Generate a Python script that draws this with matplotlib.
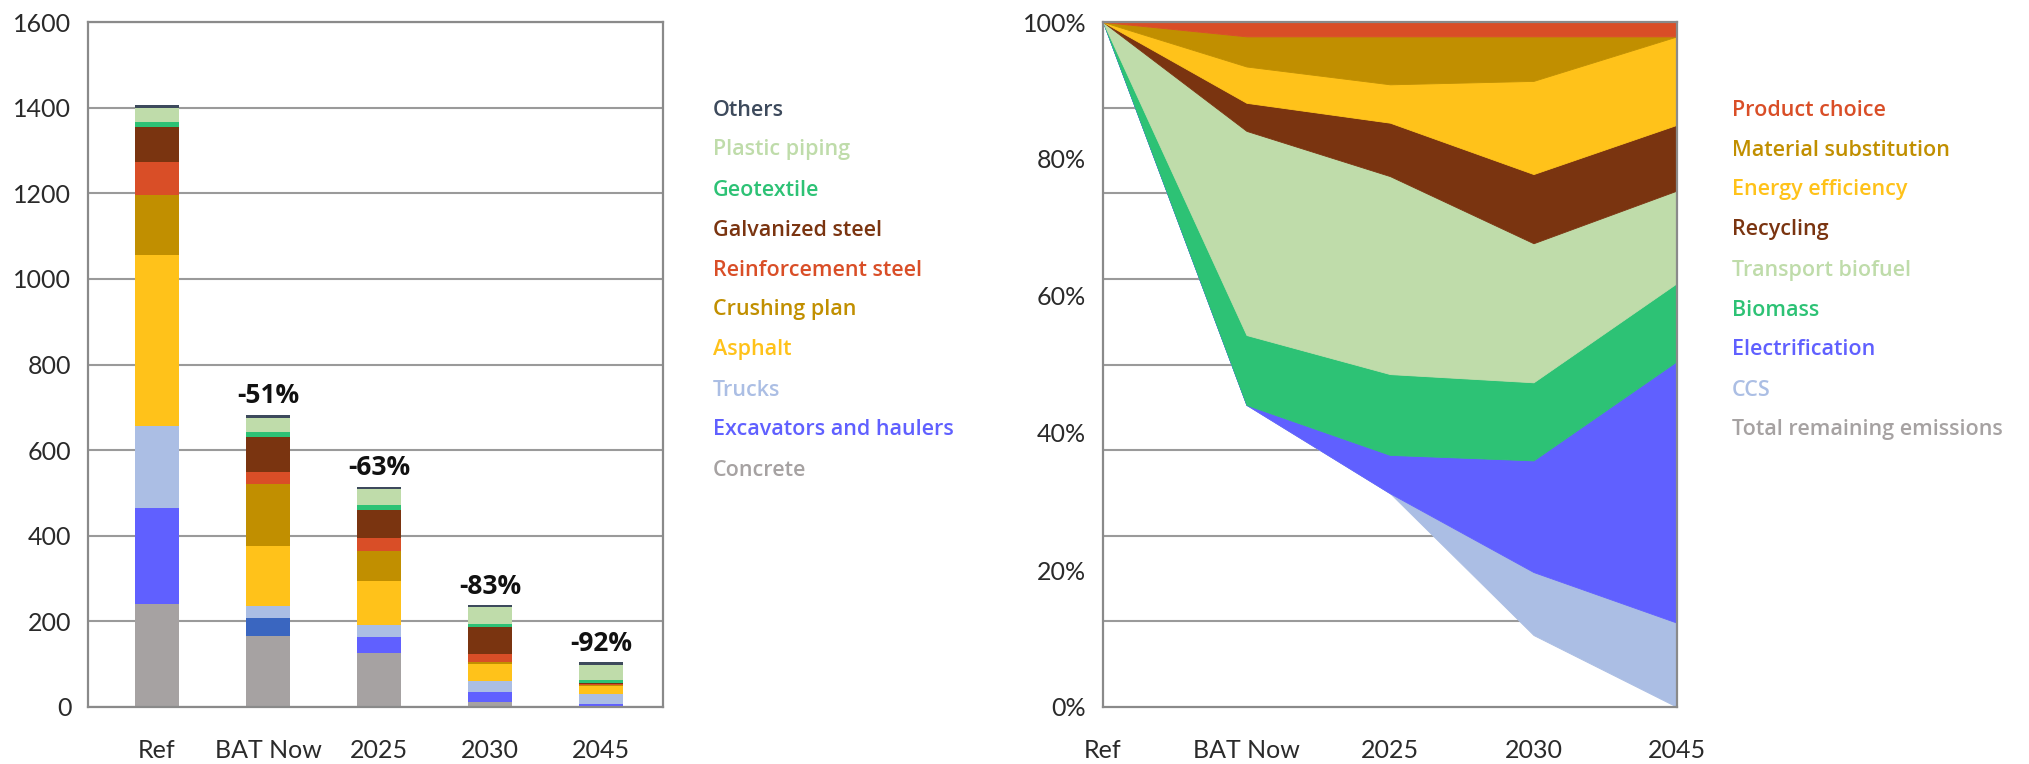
import numpy as np
import matplotlib
matplotlib.use("Agg")
import matplotlib.pyplot as plt
from matplotlib.ticker import MultipleLocator

# ---------------- data ----------------
bar_categories = ["Ref", "BAT Now", "2025", "2030", "2045"]
bar_series_names = ["Concrete", "Excavators and haulers", "Trucks", "Asphalt",
                    "Crushing plan", "Reinforcement steel", "Galvanized steel",
                    "Geotextile", "Plastic piping", "Others"]
concrete = [241, 167, 125, 12, 1]
excavators = [224, 40, 38, 22, 5]
trucks = [191, 28, 29, 26, 25]
asphalt = [399, 142, 102, 41, 18]
crushing = [140, 143, 71, 5, 2]
reinforcement = [79, 29, 29, 17, 2]
galvanized = [81, 82, 67, 65, 3]
geotextile = [12, 12, 10, 7, 8]
plastic = [32, 33, 39, 38, 35]
others = [8, 7, 5, 6, 7]
reduction_labels = ["", "-51%", "-63%", "-83%", "-92%"]

area_categories = ["Ref", "BAT Now", "2025", "2030", "2045"]
area_names = ["Total remaining emissions", "CCS", "Electrification", "Biomass",
              "Transport biofuel", "Recycling", "Energy efficiency",
              "Material substitution", "Product choice"]
remaining = [100, 44.1, 31.2, 10.5, 0]
ccs = [0, 0, 0, 9.2, 12.3]
electrification = [0, 0, 5.6, 16.3, 38.2]
biomass = [0, 10.2, 11.8, 11.4, 11.4]
transport_biofuel = [0, 29.8, 28.9, 20.3, 13.5]
recycling = [0, 4.1, 7.8, 10.1, 9.6]
energy_efficiency = [0, 5.3, 5.6, 13.6, 12.9]
material_substitution = [0, 4.4, 7.0, 6.5, 0]
product_choice = [0, 2.1, 2.1, 2.1, 2.1]

# ---------------- style ----------------
C_OTHERS = "#3d4a5c"
C_PLASTIC = "#bfdcaa"
C_GEO = "#2dc275"
C_GALV = "#7a3410"
C_REINF = "#d94e27"
C_CRUSH = "#c18f00"
C_ASPH = "#ffc21a"
C_TRUCK = "#abbee4"
C_EXC = "#6060ff"
C_EXC_BAT = "#3a66c0"
C_CONC = "#a6a2a2"

TICK_FAMILY = ["Lato", "DejaVu Sans"]
LEG_FONT = ["Open Sans", "Noto Sans", "DejaVu Sans"]
GRID_C = "#9a9a9a"
SPINE_C = "#8a8a8a"

W, H = 2029, 764
fig = plt.figure(figsize=(W / 100, H / 100), dpi=100)

def axpos(x0, y0, x1, y1):
    return [x0 / W, 1 - y1 / H, (x1 - x0) / W, (y1 - y0) / H]

def style_axes(ax):
    for s in ax.spines.values():
        s.set_color(SPINE_C)
        s.set_linewidth(1.6)
    ax.tick_params(length=0, labelsize=18, colors="#2a2a2a")
    for lab in ax.get_xticklabels() + ax.get_yticklabels():
        lab.set_fontfamily(TICK_FAMILY)
        lab.set_fontweight("normal")

# ---------------- left: stacked bars ----------------
ax1 = fig.add_axes(axpos(88, 22, 663, 707))
x = np.arange(len(bar_categories))
series = [concrete, excavators, trucks, asphalt, crushing, reinforcement,
          galvanized, geotextile, plastic, others]
colors = [C_CONC, C_EXC, C_TRUCK, C_ASPH, C_CRUSH, C_REINF, C_GALV, C_GEO,
          C_PLASTIC, C_OTHERS]
bottom = np.zeros(len(x))
for vals, col, name in zip(series, colors, bar_series_names):
    cols = [col] * len(x)
    if name == "Excavators and haulers":
        cols[1] = C_EXC_BAT
    ax1.bar(x, vals, bottom=bottom, width=0.4, color=cols, linewidth=0, zorder=2)
    bottom += np.array(vals, dtype=float)

for xi, top, lab in zip(x, bottom, reduction_labels):
    if lab:
        ax1.annotate(lab, (xi, top), xytext=(0, 8), textcoords="offset points",
                     ha="center", va="baseline", fontsize=19, fontweight="bold",
                     family=["Open Sans", "DejaVu Sans"], color="#111111")

ax1.set_xlim(-0.622, 4.56)
ax1.set_ylim(0, 1600)
ax1.set_yticks(np.arange(0, 1601, 200))
ax1.set_xticks(x)
ax1.set_xticklabels(bar_categories)
ax1.grid(axis="y", color=GRID_C, linewidth=1.5, zorder=0)
ax1.set_axisbelow(True)
ax1.tick_params(axis="x", pad=23)
ax1.tick_params(axis="y", pad=12)
style_axes(ax1)

# left legend
leg_x = 713
for i, (name, col) in enumerate(zip(bar_series_names[::-1], colors[::-1])):
    fig.text(leg_x / W, 1 - (110 + 40 * i) / H, name, color=col, fontsize=15.5,
             fontweight="semibold", family=LEG_FONT, va="center", ha="left")

# ---------------- right: stacked area ----------------
ax2 = fig.add_axes(axpos(1103, 22, 1677, 707))
xa = np.arange(len(area_categories))
area_series = [remaining, ccs, electrification, biomass, transport_biofuel,
               recycling, energy_efficiency, material_substitution, product_choice]
area_colors = ["none", C_TRUCK, C_EXC, C_GEO, C_PLASTIC, C_GALV, C_ASPH,
               C_CRUSH, C_REINF]
polys = ax2.stackplot(xa, *area_series, colors=area_colors, linewidth=0.6, zorder=2)
for p, c in zip(polys, area_colors):
    if c == "none":
        p.set_facecolor("none")
        p.set_edgecolor("none")
    else:
        p.set_edgecolor(c)

ax2.set_xlim(0, 4)
ax2.set_ylim(0, 100)
ax2.set_yticks(np.arange(0, 101, 20))
ax2.set_yticklabels([f"{v}%" for v in range(0, 101, 20)])
ax2.yaxis.set_minor_locator(MultipleLocator(12.5))
ax2.grid(axis="y", which="minor", color=GRID_C, linewidth=1.5, zorder=0)
ax2.grid(axis="y", which="major", visible=False)
ax2.set_axisbelow(True)
ax2.set_xticks(xa)
ax2.set_xticklabels(area_categories)
ax2.tick_params(axis="x", pad=23)
ax2.tick_params(axis="y", pad=12)
ax2.tick_params(which="minor", length=0)
style_axes(ax2)

leg2_x = 1732
leg2_colors = [C_REINF, C_CRUSH, C_ASPH, C_GALV, C_PLASTIC, C_GEO, C_EXC,
               C_TRUCK, C_CONC]
for i, (name, col) in enumerate(zip(area_names[::-1], leg2_colors)):
    fig.text(leg2_x / W, 1 - (110 + 40 * i) / H, name, color=col, fontsize=15.5,
             fontweight="semibold", family=LEG_FONT, va="center", ha="left")

fig.savefig("out.png", dpi=100)
